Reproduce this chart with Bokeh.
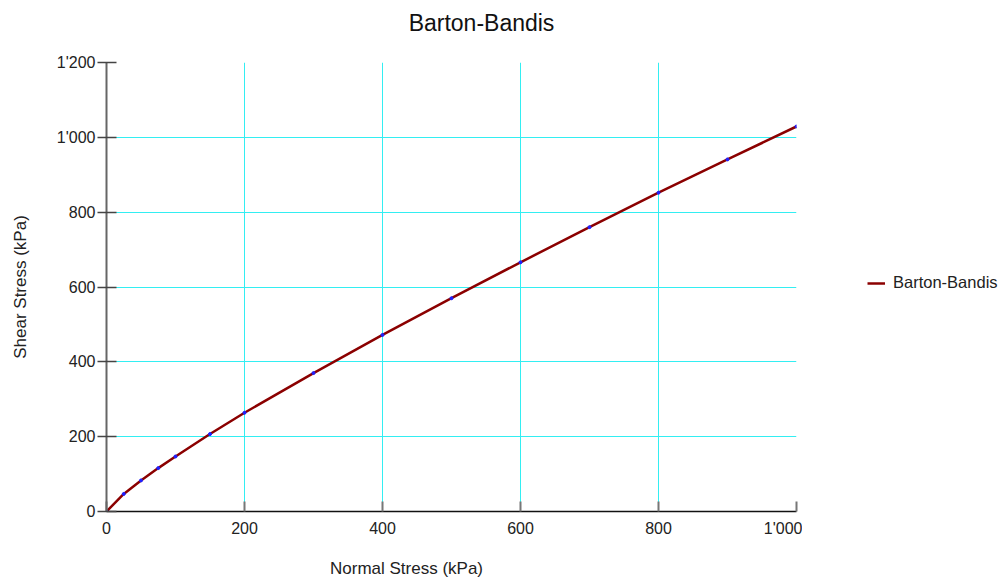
from bokeh.plotting import figure
from bokeh.layouts import row, column
from bokeh.models import Range1d, FixedTicker, CustomJSTickFormatter, Legend, LegendItem, Label
from bokeh.embed import file_html
from bokeh.resources import INLINE

# data
normal_stress = [0, 25, 50, 75, 100, 150, 200, 300, 400, 500, 600, 700, 800, 900, 1000]
shear_stress = [0, 47, 83, 116, 147, 207, 264, 370, 472, 570, 666, 760, 852, 941, 1029]
x_ticks = [0, 200, 400, 600, 800, 1000]
y_ticks = [0, 200, 400, 600, 800, 1000, 1200]
series_name = "Barton-Bandis"
title_text = "Barton-Bandis"
x_label = "Normal Stress (kPa)"
y_label = "Shear Stress (kPa)"

FONT = "Liberation Sans"
LINE_COLOR = "#8B0000"
GRID = "#33EEF2"


def blank(width, height):
    f = figure(width=width, height=height, output_backend="svg", toolbar_location=None,
               x_range=Range1d(0, 1), y_range=Range1d(0, 1), min_border=0,
               min_border_left=0, min_border_right=0, min_border_top=0, min_border_bottom=0)
    f.outline_line_color = None
    f.axis.visible = False
    f.grid.visible = False
    return f


# header with title
header = blank(1002, 44)
header.add_layout(Label(x=481, y=22, x_units="screen", y_units="screen", text=title_text,
                        text_font=FONT, text_font_size="23px", text_color="#111111",
                        text_align="center", text_baseline="middle"))

# main plot
p = figure(width=802, height=510, output_backend="svg", toolbar_location=None,
           x_range=Range1d(0, 1000), y_range=Range1d(0, 1200),
           min_border_left=106, min_border_right=6, min_border_top=18, min_border_bottom=43)
p.outline_line_color = None

fmt = CustomJSTickFormatter(code="""
var s = Math.round(tick).toString();
return s.replace(/\\B(?=(\\d{3})+(?!\\d))/g, "'");
""")

p.xaxis.ticker = FixedTicker(ticks=x_ticks)
p.yaxis.ticker = FixedTicker(ticks=y_ticks)
p.xaxis.formatter = fmt
p.yaxis.formatter = fmt
for ax in (p.xaxis, p.yaxis):
    ax.major_label_text_font = FONT
    ax.major_label_text_font_size = "16px"
    ax.major_label_text_color = "#222222"
    ax.minor_tick_line_color = None
    ax.axis_label_text_font = FONT
    ax.axis_label_text_font_size = "17px"
    ax.axis_label_text_font_style = "normal"
    ax.axis_label_text_color = "#222222"

p.xaxis.axis_line_color = "#111111"
p.xaxis.axis_line_width = 1.5
p.xaxis.major_tick_line_color = "#777777"
p.xaxis.major_tick_line_width = 2
p.xaxis.major_tick_in = 10
p.xaxis.major_tick_out = 0
p.xaxis.major_label_standoff = 8

p.yaxis.axis_line_color = "#666666"
p.yaxis.axis_line_width = 2
p.yaxis.major_tick_line_color = "#444444"
p.yaxis.major_tick_line_width = 1.5
p.yaxis.major_tick_in = 10
p.yaxis.major_tick_out = 9
p.yaxis.major_label_standoff = 2
p.yaxis.axis_label = y_label
p.yaxis.axis_label_standoff = 24

p.xgrid.grid_line_color = GRID
p.ygrid.grid_line_color = GRID
p.xgrid.grid_line_width = 1
p.ygrid.grid_line_width = 1

r = p.line(normal_stress, shear_stress, line_color=LINE_COLOR, line_width=2.5)
p.scatter(normal_stress, shear_stress, size=3, color="#2020FF")

# legend panel (data kept out of its view so only the legend shows)
lg = figure(width=200, height=510, output_backend="svg", toolbar_location=None,
            x_range=Range1d(-2, -1), y_range=Range1d(-2, -1),
            min_border_left=0, min_border_right=0, min_border_top=0, min_border_bottom=0)
lg.outline_line_color = None
lg.axis.visible = False
lg.grid.visible = False
lr = lg.line(normal_stress, shear_stress, line_color=LINE_COLOR, line_width=2.5)
legend = Legend(items=[LegendItem(label=series_name, renderers=[lr])],
                location=(65, 219), margin=0, border_line_color=None, background_fill_alpha=0,
                label_text_font=FONT, label_text_font_size="16.5px", label_text_color="#222222",
                glyph_width=18, glyph_height=16, label_standoff=8)
lg.add_layout(legend, "center")

# footer with x axis label
footer = blank(1002, 24)
footer.add_layout(Label(x=406, y=10, x_units="screen", y_units="screen", text=x_label,
                        text_font=FONT, text_font_size="17px", text_color="#222222",
                        text_align="center", text_baseline="middle"))

layout = column(header, row(p, lg, spacing=0), footer, spacing=0)
open("out.html", "w").write(file_html(layout, INLINE))
